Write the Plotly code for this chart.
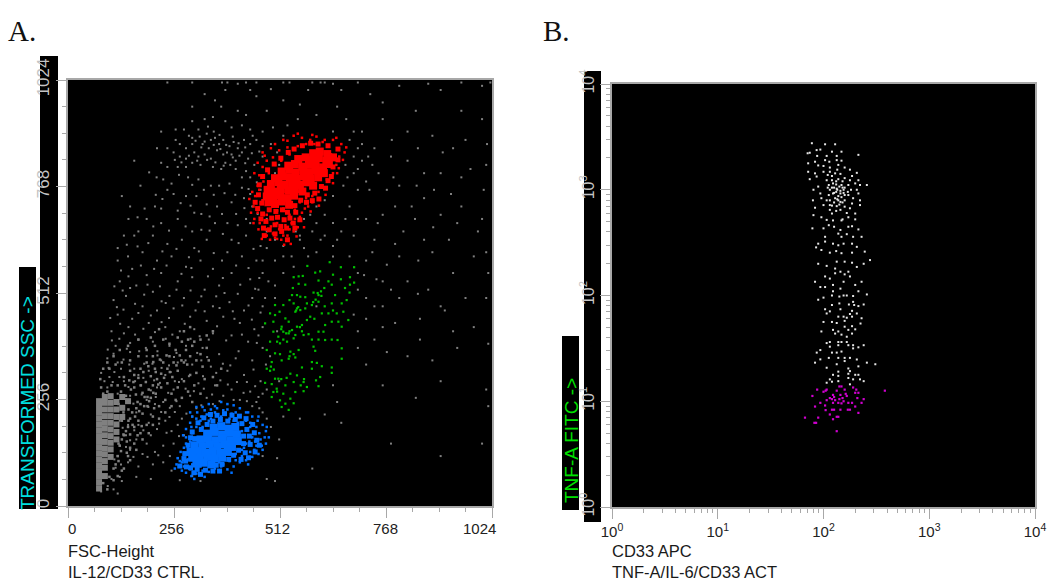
import numpy as np
import plotly.graph_objects as go

# Panel A (channel values, FSC-Height vs transformed SSC)
gray_sparse = [
(240,1018),(300,1018),(372,1018),(385,1018),(410,1015),(430,1018),(455,1018),(520,1018),(535,1018),(590,1018),(610,1018),
(330,990),(355,975),(300,960),(370,960),(410,950),(430,940),(455,985),(480,950),(520,975),(300,925),(260,905),(225,900),(260,880),
(330,930),(350,935),(380,925),(395,910),(420,915),(440,905),(470,900),(495,910),(520,890),(300,885),(315,905),(335,895),(345,880),
(270,870),(285,860),(300,870),(325,870),(340,860),(355,885),(365,870),(375,880),(390,865),(400,875),(410,860),(425,880),(440,870),(455,880),(470,865),(490,870),(505,850),
(215,860),(240,860),(255,850),(270,840),(285,835),(305,850),(315,840),(330,845),(345,835),(360,855),(375,845),(395,845),(405,830),(420,850),(435,835),(450,820),(470,840),
(160,830),(225,825),(240,815),(265,815),(285,815),(300,825),(320,820),(350,815),(370,810),(380,825),(405,810),(430,805),(480,810),(500,800),(510,820),
(230,785),(250,775),(290,790),(315,785),(345,770),(365,770),(390,775),(420,765),(440,790),(465,760),(425,740),(240,760),(255,750),(285,745),(310,745),(335,725),(360,720),(395,730),(445,720),(470,735),
(130,745),(175,770),(150,720),(185,715),(210,720),(225,715),(265,710),(305,705),(385,680),(410,675),(440,680),(480,660),(170,660),(190,690),(225,680),(265,690),(300,660),(355,680),(395,640),(430,650),(465,625),(500,640),
(135,650),(160,650),(205,650),(240,630),(275,640),(305,620),(335,640),(385,610),(420,600),(455,590),(120,620),(145,600),(180,610),(215,590),(250,600),(285,575),(320,590),(350,570),(395,560),(440,545),(470,560),
(120,590),(155,570),(190,555),(225,560),(265,540),(300,550),(330,520),(365,530),(410,510),(445,500),(125,540),(165,530),(205,515),(245,505),(280,500),(315,490),(350,480),(390,490),(425,470),(465,465),
(110,495),(140,505),(180,480),(215,470),(255,475),(295,455),(335,445),(375,455),(415,440),(450,425),(120,460),(155,450),(195,440),(235,430),(270,420),(305,425),(350,415),(395,410),(435,395),(470,380),
(105,420),(135,415),(170,400),(205,395),(245,385),(285,385),(325,380),(365,365),(405,355),(445,350),(115,385),(150,370),(190,360),(225,350),(265,345),(300,340),(345,335),(385,325),(425,315),(465,300),
(95,355),(120,345),(160,330),(195,325),(235,315),(275,305),(315,295),(355,290),(395,280),(440,275),(100,310),(135,300),(175,290),(215,285),(255,280),(295,265),(335,260),(375,265),(415,255),(455,250),
(80,320),(95,285),(120,270),(150,265),(190,255),(230,250),(270,240),(310,235),(350,245),(400,255),(445,240),(470,225),(480,210),
(85,255),(105,245),(135,235),(165,225),(200,220),(235,205),(265,195),(300,215),(215,185),(250,180),(195,200),(170,195),(145,195),(125,205),(280,170),(255,150),(230,145),(210,130),(190,150),(165,160),(140,170),
(180,125),(150,135),(125,145),(230,105),(205,100),(170,95),(145,105),(120,120),(265,115),(250,85),(300,72),(320,60),(270,62),(200,65),(165,70),(125,70),(110,40),(105,65),(120,30),(80,35),(480,65),(510,160),(505,115),
(600,480),(650,250),(640,600),(700,690),(740,640),(720,590),(770,580),(800,600),(680,600),(640,625),(700,560),(745,545),(720,500),(780,520),(820,540),(850,450),(900,480),(760,430),(720,450),(700,380),(770,370),(820,360),(880,350),(760,290),(840,260),(900,300),(940,380),(1010,280),(960,500),
(700,760),(720,780),(750,800),(770,760),(800,770),(830,720),(860,740),(900,700),(950,720),(1000,690),(690,800),(670,820),(710,830),(740,860),(780,840),(820,830),(860,800),(900,800),(950,790),(1010,820),
(680,720),(720,690),(760,700),(810,660),(860,640),(920,640),(980,600),(1015,560),(600,940),(650,960),(690,900),(760,930),(820,900),(880,890),(930,860),(1000,930),(620,1018),(700,1018),(800,1010),(900,1000),
(540,600),(570,620),(600,610),(620,650),(480,690),(520,625),(560,640),(500,590),(545,575),(700,520),(740,480),(660,200),(590,90),(470,120),(500,60),(700,420),(690,650),(430,690),(440,750),(420,790),
(690,840),(700,860),(680,880),(710,870),(725,840),(735,820),(700,810),(675,790),(665,770),(640,745),(620,735),(600,720),(585,700),(570,690),(600,680),(640,680),(660,660),(670,690),(590,660),(550,660),
]
gray_more = [
(280,905),(292,890),(308,878),(322,862),(338,912),(352,900),(366,892),(382,868),(398,888),(412,872),(428,862),(446,890),(318,888),(330,876),(352,868),(368,858),(384,850),(398,838),(414,842),(428,824),(258,832),(274,826),(292,842),(312,830),(336,832),(356,826),(376,818),(392,820),(444,848),(462,852),
(196,802),(214,790),(268,796),(300,772),(328,760),(352,748),(378,752),(404,748),(436,762),(456,778),(212,748),(228,738),(272,728),(296,722),(322,702),(342,696),(372,702),(406,702),(426,716),(458,702),(146,690),(168,694),(206,672),(244,662),(284,672),(322,664),(342,662),(374,654),(412,632),(448,618),
(142,628),(168,624),(194,632),(228,612),(262,618),(292,598),(316,612),(352,608),(372,590),(406,578),(436,572),(462,548),(128,566),(146,552),(176,578),(208,570),(238,578),(274,558),(298,572),(338,552),(374,548),(416,532),(452,522),(484,540),
(112,528),(132,518),(150,524),(184,508),(192,532),(222,528),(236,488),(262,520),(296,518),(322,504),(358,504),(378,512),(398,468),(436,482),(476,500),(118,478),(134,472),(162,486),(200,458),(226,492),(244,452),(276,482),(308,470),(330,468),(366,476),(402,450),(444,448),(470,430),
(102,452),(126,438),(146,430),(170,464),(182,426),(210,418),(226,442),(252,412),(282,438),(318,408),(340,400),(360,432),(382,398),(420,412),(456,392),(488,360),(106,398),(124,402),(150,392),(162,412),(188,380),(216,372),(236,402),(262,368),(296,402),(312,368),(336,358),(374,342),(412,372),(448,328),(478,340),
(96,376),(110,366),(134,352),(142,378),(172,372),(204,342),(216,362),(244,338),(256,358),(284,350),(322,350),(358,320),(392,338),(432,298),(470,270),(98,332),(112,322),(128,330),(148,340),(170,315),(184,342),(208,302),(226,332),(248,322),(268,298),(292,312),(326,312),(368,302),(408,298),(452,288),
(88,300),(108,298),(124,310),(146,286),(162,300),(182,308),(200,278),(222,296),(242,272),(258,300),(284,282),(304,276),(328,282),(348,268),(386,292),(424,272),(460,262),(100,262),(118,252),(140,256),(158,246),(178,268),(194,238),(212,262),(246,236),(262,252),(286,222),(322,242),(366,252),(432,252),(462,235),
(210,245),(225,226),(245,214),(258,226),(275,210),(220,198),(238,176),(268,168),(200,170),(182,182),(160,182),(150,158),(132,188),(140,142),(158,118),(192,118),(218,122),(246,120),(128,100),(112,112),(130,60),(96,48),(115,92),
(728,760),(786,790),(842,770),(884,760),(925,750),(972,810),(1004,760),(748,680),(790,720),(838,690),(882,670),(940,680),(990,660),(735,610),(790,630),(846,590),(880,610),(930,560),(1010,610),(760,540),(800,500),(870,520),(910,470),(980,430),(1015,390),(740,400),(790,440),(850,400),(930,420),(1010,500),
(640,900),(672,930),(710,900),(782,880),(845,860),(905,850),(960,880),(1012,870),(660,1000),(730,990),(760,970),(840,950),(950,950),(1000,1010),(870,1015),(950,1018),(1020,1018),(560,965),(580,1000),(640,1015),(380,1000),(440,1000),(490,1002),(555,930),(530,915),
(540,740),(560,650),(620,700),(650,640),(610,640),(580,600),(520,600),(480,620),(470,590),(520,560),(460,520),(500,530),(470,480),(500,500),(460,410),(505,420),(480,280),(510,300),(520,215),(490,190),(560,210),(620,220),(640,290),(720,340),(760,480),(690,460),(715,555),(845,510),(1015,240),(1000,150),(900,120),(780,150),
]
gray_core = [
(75,42),(75,56),(75,70),(75,84),(75,98),(75,112),(75,126),(75,140),(75,154),(75,168),(75,182),(75,196),(75,210),(75,224),(75,238),(75,252),
(89,72),(89,92),(89,108),(89,124),(89,138),(89,154),(89,170),(89,186),(89,200),(89,216),(89,232),(89,248),(89,262),
(103,118),(103,136),(103,152),(103,168),(103,184),(103,200),(103,216),(103,232),(103,248),(103,264),
(117,160),(117,178),(117,196),(117,214),(117,232),(117,250),(131,214),(131,236),(131,262),(145,252),
]
gray_wedge = [
(115,100),(120,120),(125,145),(130,160),(135,170),(140,180),(145,190),(130,205),(150,210),(155,225),(165,235),(175,245),(185,262),(195,280),(205,290),(215,305),(225,318),(240,330),(255,345),(270,362),(285,375),(300,385),
(110,90),(122,108),(128,132),(142,155),(150,172),(160,190),(170,205),(180,222),(192,240),(200,260),(212,270),(225,285),(240,295),(252,310),(265,325),(280,345),(295,360),(310,350),(320,365),(335,380),
(100,70),(85,55),(95,40),(110,62),(130,85),(145,120),(160,150),(175,175),(190,195),(205,215),(220,240),(235,255),(250,270),(265,285),(280,300),(295,315),(310,320),(325,335),(340,350),
(175,330),(190,345),(205,360),(160,315),(150,325),(135,310),(120,290),(105,290),(95,275),(85,270),(80,285),(78,305),(85,330),(100,330),(115,340),(130,345),(150,350),(170,360),(190,375),(210,385),(230,400),
(210,330),(230,345),(245,360),(260,375),(275,395),(290,400),(305,395),(320,400),(335,410),(350,420),(245,390),(265,405),(280,420),(295,430),(200,405),(220,425),(170,400),(145,385),(125,375),(110,360),(95,345),
(235,225),(250,240),(260,255),(275,260),(290,275),(305,290),(220,210),(205,195),(195,175),(180,160),(165,135),(150,110),(135,90),(120,72),(330,305),(350,310),(370,330),(360,290),(300,250),(320,270),
(140,265),(152,280),(164,268),(176,290),(188,298),(200,312),(212,322),(158,298),(170,308),(182,322),(194,336),(206,346),(222,352),(238,362),(168,250),(180,272),(192,262),(206,272),(218,292),(232,308),(246,322),(262,338),(274,350),(288,340),(128,275),(138,290),(148,302),(160,285),(122,245),(134,225),(146,232),
(122,150),(134,172),(146,205),(156,195),(162,215),(172,228),(184,240),(196,252),(208,235),(150,140),(168,170),(178,192),(142,128),
]
red_core = [
(592,848),(608,852),(626,846),(556,834),(574,838),(590,832),(606,836),(624,830),(640,838),(532,818),(548,822),(566,816),(582,820),(598,818),(616,814),(630,822),
(516,804),(534,808),(550,802),(568,806),(584,802),(600,806),(618,800),(500,788),(518,792),(536,790),(552,786),(570,792),(586,786),(604,790),(490,774),(508,778),(524,772),(542,776),(560,772),(576,778),(592,770),
(482,760),(498,756),(514,762),(532,758),(548,762),(566,756),(480,744),(496,742),(512,746),(530,740),(546,746),(484,730),(500,726),(516,732),(534,724),
]
red_mid = [
(458,715),(470,702),(486,712),(502,708),(518,712),(530,706),(548,722),(562,735),(578,748),(596,752),(612,768),(628,782),(640,815),(652,832),(466,690),(478,684),(492,692),(506,694),(522,688),(536,692),(550,706),
(472,668),(486,664),(500,676),(514,672),(528,668),(544,680),(500,654),(516,660),(474,650),(530,640),(548,668),(560,688),(576,730),(590,734),(606,738),(622,764),(636,792),
(470,792),(482,808),(498,822),(514,836),(532,850),(546,858),(566,866),(586,872),(604,870),(628,866),(652,858),(460,748),(468,728),(452,730),(462,772),
]
red_speckle = [
(470,850),(490,860),(520,880),(545,890),(565,885),(585,880),(600,888),(620,880),(640,880),(660,870),(668,850),(655,840),(648,820),(635,830),(622,805),(610,790),(598,770),(605,755),(590,745),(575,740),(560,730),(580,720),(565,705),(548,690),(555,670),(535,665),(520,650),(500,645),(480,650),(460,665),(450,690),(448,720),(452,745),(458,770),(445,755),(462,795),(470,815),(480,830),(495,838),(510,855),(530,862),
(478,665),(490,672),(505,680),(520,690),(535,700),(548,712),(560,755),(535,735),(520,715),(505,710),(490,725),(470,735),(458,705),(463,680),(480,700),(510,665),(525,675),(540,680),(495,655),(515,640),(530,650),(545,660),(560,695),(572,715),(590,730),(610,770),(625,785),(640,800),(650,800),(635,845),(615,875),(595,870),(575,870),(555,865),(535,845),(515,830),(500,820),(485,800),(472,780),(462,760),
(505,642),(488,640),(468,642),(448,680),(442,705),(438,738),(450,800),(458,825),(475,842),(500,870),(530,878),(555,895),(590,892),(648,885),(672,862),(664,832),(654,812),(640,776),(622,748),(606,722),(586,708),(570,670),(552,648),(538,630),(522,628),
]
blue_core = [
(352,188),(370,192),(388,186),(404,190),(336,174),(354,178),(372,172),(390,176),(408,172),(320,160),(338,162),(356,158),(374,162),(392,158),(410,156),(305,146),(324,144),(342,148),(360,144),(378,148),(396,142),
(296,130),(314,132),(332,128),(350,132),(368,128),(386,130),(300,116),(318,114),(336,118),(354,114),(372,116),(310,102),(328,104),(346,100),
]
blue_mid = [
(322,184),(336,196),(350,204),(368,208),(386,204),(404,208),(420,198),(432,184),(446,196),(424,168),(438,168),(424,150),(440,148),(456,158),(412,134),(428,128),(400,122),(388,112),(372,100),(358,98),(300,178),(306,162),(290,146),(282,126),(284,108),(270,96),(296,92),(312,88),(332,86),(350,84),(366,84),
(314,200),(328,212),(344,220),(360,218),(378,222),(396,218),(414,216),(430,210),(296,164),(280,114),(286,94),(304,80),(320,76),(450,176),(462,146),(452,130),(436,116),(418,112),
]
blue_speckle = [
(268,95),(275,85),(285,80),(298,72),(310,78),(325,85),(340,82),(355,90),(370,95),(385,88),(400,95),(415,105),(430,110),(445,118),(460,125),(470,135),(478,150),(485,165),(478,180),(470,195),(458,205),(445,215),(430,225),(415,235),(400,242),(385,245),(370,250),(355,240),(340,245),(325,238),(312,225),(300,215),(295,200),(285,185),(278,170),(285,150),(272,130),(265,115),(262,100),
(280,95),(295,88),(320,95),(345,100),(365,105),(390,108),(420,120),(440,130),(455,145),(465,160),(450,175),(440,190),(430,205),(415,215),(395,222),(375,230),(355,225),(335,220),(320,205),(310,190),(300,175),(295,155),(285,125),(300,100),
(430,150),(445,165),(420,180),(410,200),(390,210),(370,215),(345,210),(325,190),(315,165),(310,150),(290,140),(275,105),(420,135),(405,125),(440,200),(455,190),(462,175),(475,165),(468,145),(450,135),(435,225),(405,225),(360,235),(330,230),(310,210),(298,190),(285,165),(280,140),
(270,108),(258,90),(305,65),(330,70),(405,110),(435,100),(425,140),(438,155),(452,155),(400,205),(340,205),(305,130),(290,112),(315,100),(350,85),(375,100),(395,80),(480,190),(460,215),(385,232),(345,232),(310,238),(295,225),(322,215),
]
green_points = [
(545,550),(557,552),(567,553),(578,577),(597,561),(609,564),(632,586),(659,574),(691,574),(681,550),(640,556),(629,540),(637,532),(543,524),(557,534),(573,532),(605,542),(619,524),(611,516),(681,532),(669,524),(659,545),(691,537),
(541,507),(553,507),(561,503),(573,502),(593,513),(605,507),(645,507),(680,513),(535,495),(545,487),(553,475),(549,467),(577,487),(589,483),(605,491),(637,487),(661,487),(673,495),(520,483),(500,483),(511,467),(488,463),(500,459),(525,451),(533,443),(561,471),(573,475),(613,463),(629,463),(649,463),(665,467),
(496,443),(476,439),(516,431),(520,419),(541,423),(553,431),(565,435),(577,447),(621,435),(637,443),(653,443),(677,447),(661,431),(496,419),(508,407),(533,415),(549,411),(569,411),(605,419),(617,419),(581,413),(488,395),(512,391),(529,395),(545,403),(589,400),(605,400),(621,399),(637,400),(651,399),
(480,375),(500,367),(512,365),(537,371),(557,375),(593,383),(597,373),(661,379),(492,346),(480,330),(488,325),(516,350),(533,354),(549,357),(589,346),(601,344),(613,336),(637,333),(661,354),(500,306),(508,306),(537,318),(553,314),(565,333),(589,330),(637,320),
(476,296),(492,293),(504,282),(496,274),(525,290),(545,298),(569,298),(577,286),(605,288),(609,310),(599,302),(520,270),(549,274),(569,276),(492,262),(537,258),(512,254),(525,246),(533,231),(545,247),(516,238),
(592,490),(598,496),(551,470),(556,478),(603,512),(612,505),(527,415),(535,420),(560,430),(565,420),(515,425),(505,395),(520,400),(535,360),(545,365),(490,335),(497,328),(515,305),(528,308),(505,275),(562,290),(570,305),(585,455),(595,450),(620,480),(640,470),
]

# Panel B (log10 of CD33 APC and TNF-A FITC)
white_log = [
(2.09,2.04),(2.0,1.98),(1.95,1.96),(2.08,2.0),(2.15,1.99),(2.19,2.0),(2.22,2.0),(2.28,1.995),(2.33,2.04),(2.41,2.01),(2.15,1.925),(2.24,1.915),(2.28,1.94),(2.29,1.91),(2.33,1.9),(2.38,1.915),(2.08,1.91),(2.015,1.87),(2.06,1.85),(2.03,1.83),(2.16,1.87),(2.27,1.855),(2.315,1.83),(2.25,1.825),(2.14,1.8),(2.19,1.8),(2.22,1.79),(2.27,1.8),(2.36,1.785),(2.0,1.75),(2.08,1.75),(2.125,1.74),(2.2,1.76),(2.35,1.735),(2.27,1.71),(2.2,1.705),(1.98,1.66),(2.09,1.675),(2.14,1.66),(2.235,1.675),(2.3,1.68),(2.11,1.64),(2.17,1.63),(2.27,1.64),(2.22,1.61),(2.03,1.55),(2.06,1.56),(2.14,1.56),(2.17,1.56),(2.22,1.56),(2.06,1.516),(2.14,1.53),(2.235,1.53),(2.28,1.53),(2.33,1.51),(2.38,1.53),(2.28,1.5),(1.97,1.484),(1.936,1.46),(2.08,1.46),(2.125,1.46),(2.17,1.47),(1.97,1.396),(2.05,1.41),(2.14,1.41),(2.2,1.41),(2.25,1.41),(1.92,1.365),(2.125,1.35),(2.2,1.38),(2.315,1.395),(2.41,1.365),(2.49,1.35),(2.03,1.317),(2.235,1.31),(2.33,1.33),(2.14,1.28),(2.25,1.285),(2.14,1.24),(2.235,1.26),(2.3,1.25),(2.33,1.25),(2.09,1.25),(2.28,1.207),(2.235,1.22),(2.345,1.207),(2.38,1.19),(2.06,1.207),(2.03,1.175),(2.08,1.185),(2.14,1.19),(2.25,1.16),
(1.89,3.44),(2.015,3.43),(2.11,3.43),(1.85,3.345),(1.87,3.35),(1.935,3.375),(1.97,3.38),(2.08,3.36),(2.17,3.36),(2.33,3.33),(1.94,3.32),(2.03,3.32),(2.125,3.32),(1.855,3.25),(1.92,3.265),(2.015,3.28),(2.055,3.265),(2.125,3.28),(2.17,3.275),(1.95,3.23),(2.0,3.225),(2.06,3.21),(2.14,3.235),(2.2,3.21),(2.25,3.19),(1.855,3.17),(1.92,3.155),(2.0,3.17),(2.06,3.17),(2.11,3.155),(2.16,3.15),(2.315,3.16),(1.87,3.1),(1.935,3.125),(2.03,3.09),(2.08,3.09),(2.14,3.1),(2.2,3.11),(2.25,3.09),(2.33,3.09),(2.05,3.045),(2.09,3.06),(2.17,3.045),(2.235,3.045),(2.3,3.06),(2.345,3.045),(2.41,3.045),(1.905,3.0),(1.95,3.03),(2.06,3.0),(2.125,3.01),(2.19,3.0),(2.315,3.0),(1.97,2.965),(2.09,2.965),(2.16,2.965),(2.235,2.95),(2.33,2.965),(1.9,2.9),(1.98,2.92),(2.03,2.9),(2.14,2.9),(2.16,2.885),(2.28,2.92),(2.345,2.9),(1.92,2.83),(2.0,2.855),(2.06,2.855),(2.125,2.845),(2.2,2.84),(2.25,2.825),(2.345,2.855),(1.905,2.76),(1.98,2.74),(2.06,2.81),(2.08,2.775),(2.16,2.81),(2.3,2.775),(2.03,2.715),(2.09,2.71),(2.17,2.71),(2.235,2.74),(2.3,2.72),(2.0,2.635),(2.05,2.665),(2.235,2.65),(2.27,2.655),(2.33,2.625),(1.895,2.635),(2.015,2.555),(2.14,2.585),(2.17,2.555),(2.28,2.555),(2.36,2.555),(1.95,2.49),(2.015,2.51),(2.09,2.49),(2.14,2.475),(2.19,2.49),(2.27,2.49),(2.315,2.46),(1.93,2.455),(1.98,2.43),(2.06,2.405),(2.17,2.4),(2.27,2.405),(2.39,2.415),(2.44,2.335),(1.95,2.3),(2.03,2.28),(2.125,2.32),(2.2,2.32),(2.27,2.31),(2.38,2.3),(2.315,2.27),(2.11,2.255),(2.16,2.225),(2.235,2.225),(2.015,2.18),(2.11,2.21),(2.25,2.18),(1.92,2.13),(2.06,2.16),(2.19,2.13),(2.36,2.13),(1.97,2.08),(2.015,2.08),(2.09,2.1),(2.16,2.065),(2.3,2.1),
(2.1,3.02),(2.12,2.98),(2.14,2.94),(2.11,2.92),(2.17,2.93),(2.19,2.97),(2.05,2.95),(2.08,3.13),(2.12,3.08),(2.18,3.08),(2.2,3.02),(2.23,2.98),(2.1,2.88),(2.06,2.9),(2.2,2.9),(2.27,2.87),(2.12,2.8),(2.22,2.78),(2.18,2.72),(2.1,2.65),(2.16,2.62),(2.22,2.58),(2.2,2.2),(2.12,2.42),
(2.13,3.0),(2.15,3.03),(2.16,2.99),(2.18,3.02),(2.12,3.05),(2.08,3.02),(2.1,2.97),(2.13,2.91),(2.18,2.88),(2.08,2.85),(2.15,2.86),(2.2,2.95),(2.04,3.02),(2.26,3.0),(2.27,3.13),(2.13,3.19),(2.04,3.14),
]
magenta_log = [
(2.58,1.10),(1.94,1.11),(2.03,1.11),(2.0,1.09),(2.02,1.10),(2.15,1.14),(2.17,1.14),(2.2,1.11),(2.125,1.10),(2.28,1.13),(2.31,1.11),(1.895,1.05),(2.09,1.06),(2.16,1.06),(2.22,1.05),(2.3,1.08),(2.33,1.08),(2.06,1.03),(2.11,1.01),(2.15,1.02),(2.19,1.0),(2.32,1.03),(2.38,1.02),(2.03,1.01),(1.97,0.985),(1.92,0.95),(2.015,0.96),(2.09,0.985),(2.14,0.985),(2.235,0.985),(2.27,0.985),(2.3,0.95),(2.36,0.985),(2.08,0.92),(2.1,0.92),(2.16,0.92),(2.23,0.92),(2.25,0.92),(2.02,0.916),(2.06,0.875),(2.125,0.853),(2.14,0.853),(2.09,0.83),(1.95,0.845),(1.825,0.845),(1.914,0.796),(1.93,0.796),(2.33,0.89),(2.125,0.717),(2.18,1.03),(2.21,1.07),(2.1,1.04),(2.08,1.02),(2.17,0.98),
]

a_major = [0, 256, 512, 768, 1024]
a_minor = [64, 128, 192, 320, 384, 448, 576, 640, 704, 832, 896, 960]
b_major = [1, 10, 100, 1000, 10000]
b_major_text = ["10<sup>0</sup>", "10<sup>1</sup>", "10<sup>2</sup>", "10<sup>3</sup>", "10<sup>4</sup>"]
b_minor = [m * d for d in [1, 10, 100, 1000] for m in range(2, 10)]

W, H = 1050, 581
AXIS = "#a8a8a8"
LABEL = "#c4c4c4"
def xp(p): return p / W
def yp(p): return 1 - p / H

fig = go.Figure()
def add(points, color, size, xa, ya, log=False):
    xs = [p[0] for p in points]
    ys = [p[1] for p in points]
    if log:
        xs = list(10 ** np.array(xs))
        ys = list(10 ** np.array(ys))
    fig.add_trace(go.Scatter(x=xs, y=ys, mode="markers", xaxis=xa, yaxis=ya, showlegend=False,
                             hoverinfo="skip",
                             marker=dict(symbol="square", size=size, color=color, line=dict(width=0))))

GRAY = "#808080"
add(gray_sparse, GRAY, 2, "x", "y")
add(gray_more, GRAY, 2, "x", "y")
add(gray_wedge, GRAY, 2.5, "x", "y")
add(gray_core, GRAY, 6, "x", "y")
add(green_points, "#00c000", 2.2, "x", "y")
add(red_speckle, "#ff0000", 2.5, "x", "y")
add(red_mid, "#ff0000", 5, "x", "y")
add(red_core, "#ff0000", 8, "x", "y")
add(blue_speckle, "#0070ff", 2.5, "x", "y")
add(blue_mid, "#0070ff", 5, "x", "y")
add(blue_core, "#0070ff", 8, "x", "y")
add(white_log, "#e6e6e6", 2, "x2", "y2", log=True)
add(magenta_log, "#d000d0", 2.2, "x2", "y2", log=True)

tick_font = dict(family="Liberation Sans", size=17, color=LABEL)
tick_font_b = dict(family="Liberation Sans", size=16, color=LABEL)
x_font = dict(family="Liberation Sans", size=15, color="#222222")
minor_a = dict(tickvals=a_minor, ticks="outside", ticklen=4, tickcolor=AXIS, tickwidth=1)
minor_b = dict(tickvals=b_minor, ticks="outside", ticklen=4, tickcolor=AXIS, tickwidth=1)
common = dict(showgrid=False, zeroline=False, showline=True, linecolor=AXIS, linewidth=2, mirror=True,
              ticks="outside", ticklen=10, tickcolor=AXIS, tickwidth=1)

fig.update_layout(
    width=W, height=H, margin=dict(l=0, r=0, t=0, b=0, autoexpand=False), paper_bgcolor="white", plot_bgcolor="black",
    xaxis=dict(domain=[xp(68), xp(492)], range=[0, 1024], anchor="y", tickvals=a_major, showticklabels=False,
               minor=minor_a, **common),
    yaxis=dict(domain=[yp(506), yp(80)], range=[0, 1024], anchor="x", tickvals=a_major, tickangle=-90,
               tickfont=tick_font, minor=minor_a, **common),
    xaxis2=dict(domain=[xp(612), xp(1035)], type="log", range=[0, 4], anchor="y2", tickvals=b_major, ticktext=b_major_text,
                tickangle=0, tickfont=x_font, minor=minor_b, **common),
    yaxis2=dict(domain=[yp(507), yp(84)], type="log", range=[0, 4], anchor="x2", tickvals=b_major, ticktext=b_major_text,
                tickangle=-90, tickfont=tick_font_b, minor=minor_b, **common),
)

def strip(x0, x1, y0, y1):
    fig.add_shape(type="rect", xref="paper", yref="paper", x0=xp(x0), x1=xp(x1), y0=yp(y1), y1=yp(y0),
                  fillcolor="black", line=dict(width=0), layer="below")
strip(40, 58, 56, 509)
strip(19, 36, 267, 509)
strip(584, 601, 71, 522)
strip(562, 579, 336, 510)

def text(px, py, s, size, color="#1a1a1a", family="Liberation Sans", angle=0, xanchor="left", yanchor="middle"):
    fig.add_annotation(xref="paper", yref="paper", x=xp(px), y=yp(py), text=s, showarrow=False, textangle=angle,
                       xanchor=xanchor, yanchor=yanchor, font=dict(family=family, size=size, color=color),
                       borderpad=0, borderwidth=0)

text(8, 31, "A.", 29, "#111111", "Liberation Serif")
text(543, 31, "B.", 29, "#111111", "Liberation Serif")
text(68, 551, "FSC-Height", 16.5)
text(68, 572, "IL-12/CD33 CTRL.", 16.5)
text(612, 551, "CD33 APC", 16.5)
text(612, 572, "TNF-A/IL-6/CD33 ACT", 16.5)
text(27, 403, "TRANSFORMED SSC -&gt;", 19, "#00e0e0", angle=-90, xanchor="center")
text(571, 441, "TNF-A FITC -&gt;", 19, "#00e000", angle=-90, xanchor="center")

# x tick labels of panel A sit off-centre from their ticks in the source image
for v, shift in zip(a_major, [4, -3, -3, -1, -13]):
    fig.add_annotation(xref="x", yref="paper", x=v, y=yp(528), text=str(v), showarrow=False, xshift=shift,
                       font=dict(family="Liberation Sans", size=15, color="#222222"), yanchor="middle")

fig.write_html("out.html", post_script="document.body.style.margin='0';", config={"displayModeBar": False})
